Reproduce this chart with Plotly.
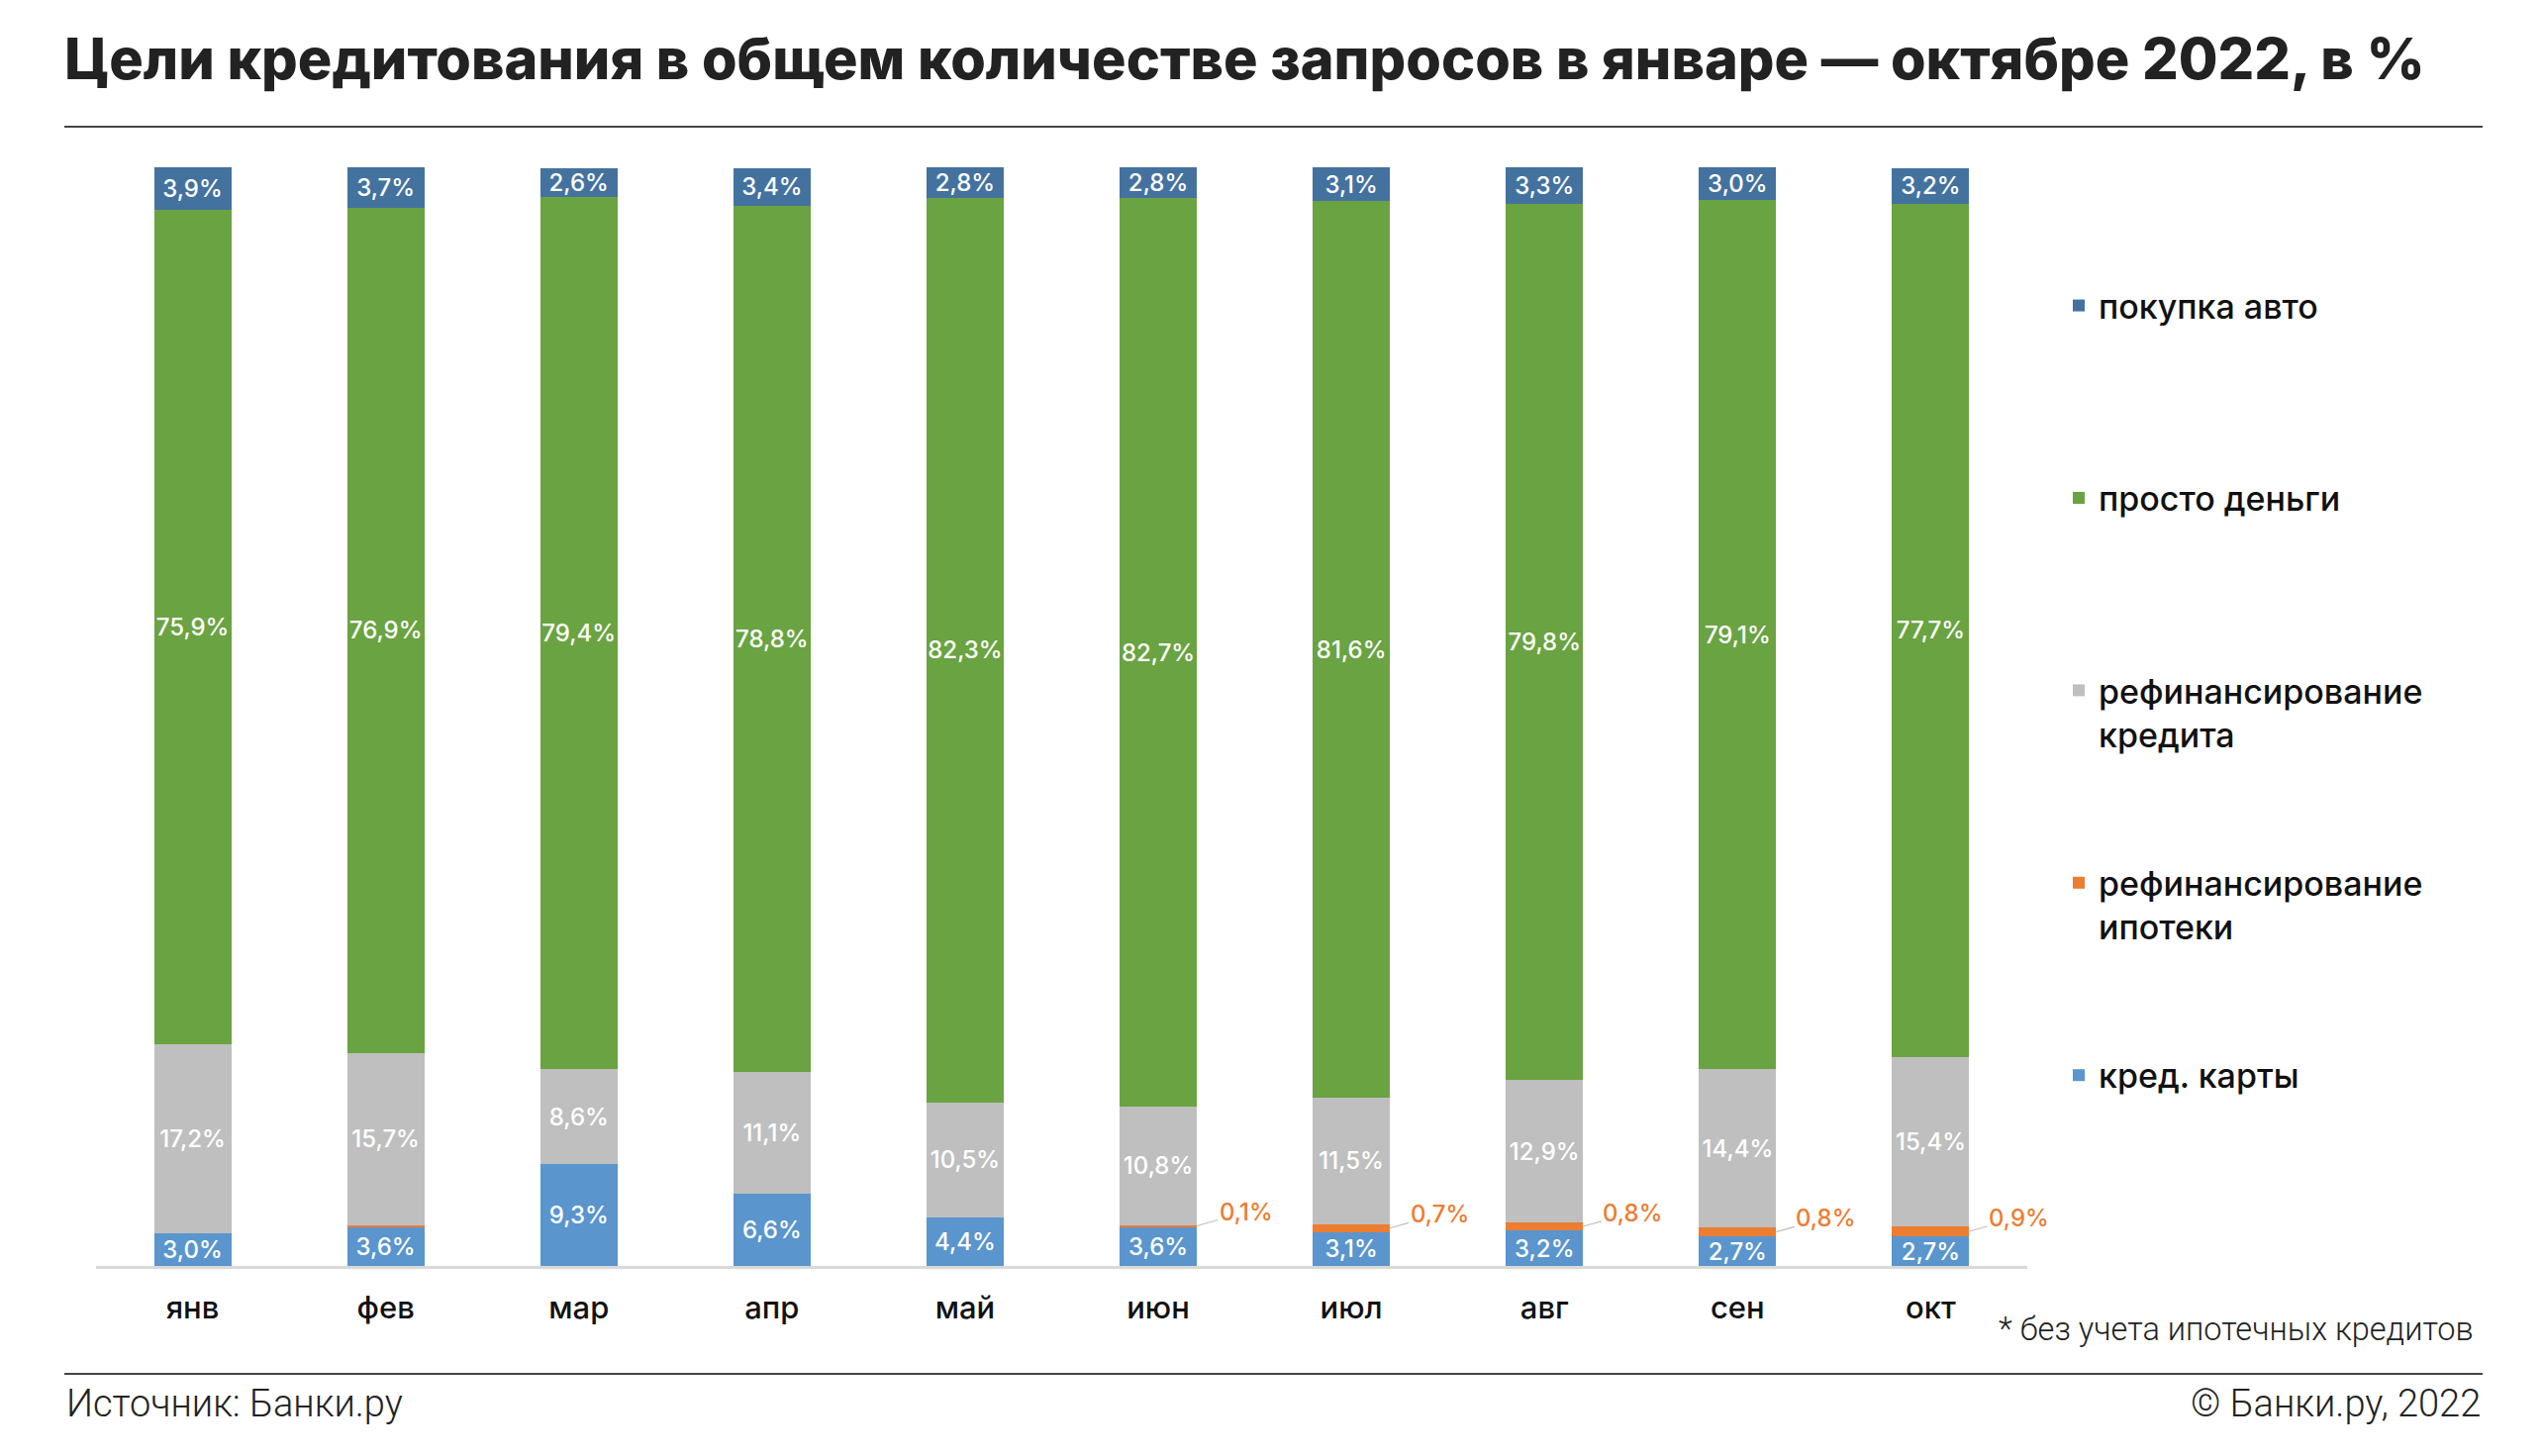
import plotly.graph_objects as go

# ---- data ----
months = ["янв", "фев", "мар", "апр", "май", "июн", "июл", "авг", "сен", "окт"]
cards = [3.0, 3.6, 9.3, 6.6, 4.4, 3.6, 3.1, 3.2, 2.7, 2.7]
mortgage_refi = [0.0, 0.1, 0.0, 0.0, 0.0, 0.1, 0.7, 0.8, 0.8, 0.9]
credit_refi = [17.2, 15.7, 8.6, 11.1, 10.5, 10.8, 11.5, 12.9, 14.4, 15.4]
cash = [75.9, 76.9, 79.4, 78.8, 82.3, 82.7, 81.6, 79.8, 79.1, 77.7]
auto = [3.9, 3.7, 2.6, 3.4, 2.8, 2.8, 3.1, 3.3, 3.0, 3.2]
mortgage_labelled = [False, False, False, False, False, True, True, True, True, True]

series_names = ["кред. карты<br> ", "рефинансирование<br>ипотеки", "рефинансирование<br>кредита",
                "просто деньги<br> ", "покупка авто<br> "]
series_colors = ["#5A95CD", "#ED7D31", "#BFBFBF", "#6AA342", "#44729F"]

title_text = "Цели кредитования в общем количестве запросов в январе — октябре 2022, в %"
source_text = "Источник: Банки.ру"
copyright_text = "© Банки.ру, 2022"
note_text = "* без учета ипотечных кредитов"

# ---- layout geometry (page pixels; the page body has an 8px margin) ----
OFF = 8
W, H = 2569 - OFF, 1471 - OFF
PLOT_L, PLOT_R, PLOT_T, PLOT_B = 97, 2048, 169, 1279
ML, MT = PLOT_L - OFF, PLOT_T - OFF
MR, MB = W - (PLOT_R - OFF), H - (PLOT_B - OFF)
PW, PH = W - ML - MR, H - MT - MB
BAR_W = 0.4


def px2paper(xp, yp):
    """page pixel -> paper coords"""
    return (xp - PLOT_L) / PW, (PLOT_B - yp) / PH


def fmt(v):
    return f"{v:.1f}".replace(".", ",") + "%"


fig = go.Figure()
series = [cards, mortgage_refi, credit_refi, cash, auto]
for k, (vals, name, col) in enumerate(zip(series, series_names, series_colors)):
    texts = ["" for _ in vals] if k == 1 else [fmt(v) for v in vals]
    fig.add_trace(go.Bar(
        x=months, y=vals, name=name, legendgroup=f"g{k}", legendrank=10 - k,
        marker=dict(color=col, line=dict(width=0)),
        width=BAR_W,
        text=texts, textposition="inside", insidetextanchor="middle",
        textangle=0, constraintext="none",
        textfont=dict(family="Inter", size=24, color="white", weight=500),
        hoverinfo="skip",
    ))

# orange labels with leader lines
for i, (c, r) in enumerate(zip(cards, mortgage_refi)):
    if mortgage_labelled[i]:
        fig.add_annotation(
            x=i + BAR_W / 2, y=c + r / 2, xref="x", yref="y",
            text=fmt(r), showarrow=True, arrowhead=0, arrowwidth=1.2,
            arrowcolor="#BFBFBF", ax=50, ay=-14,
            font=dict(family="Inter", size=24, color="#ED7D31", weight=500),
        )

# text annotations
x0, _ = px2paper(65, 0)
x1, _ = px2paper(2508, 0)
_, yl1 = px2paper(0, 128)
_, yl2 = px2paper(0, 1388)
_, yfoot = px2paper(0, 1418)
xn, yn = px2paper(2501, 1343)
xleg, yleg = px2paper(2080, 280)

fig.add_annotation(x=x0, y=yfoot, xref="paper", yref="paper", text=source_text,
                   showarrow=False, xanchor="left", yanchor="middle",
                   font=dict(family="Roboto", size=38, color="#222222", weight=300))
fig.add_annotation(x=x1, y=yfoot, xref="paper", yref="paper", text=copyright_text,
                   showarrow=False, xanchor="right", yanchor="middle",
                   font=dict(family="Roboto", size=38, color="#222222", weight=300))
fig.add_annotation(x=xn, y=yn, xref="paper", yref="paper", text=note_text,
                   showarrow=False, xanchor="right", yanchor="middle",
                   font=dict(family="Roboto", size=32.5, color="#222222", weight=300))

fig.add_shape(type="line", xref="paper", yref="paper", x0=x0, x1=x1, y0=yl1, y1=yl1,
              line=dict(color="#444444", width=2))
fig.add_shape(type="line", xref="paper", yref="paper", x0=x0, x1=x1, y0=yl2, y1=yl2,
              line=dict(color="#444444", width=2))

fig.update_layout(
    width=W, height=H,
    margin=dict(l=ML, r=MR, t=MT, b=MB, autoexpand=False),
    paper_bgcolor="white", plot_bgcolor="white",
    barmode="stack",
    title=dict(text=title_text, xref="container", yref="container",
               x=(65 - OFF) / W, xanchor="left", y=1 - (60 - OFF) / H, yanchor="middle",
               font=dict(family="Inter", size=57.6, color="#222222", weight=800)),
    xaxis=dict(showline=True, linecolor="#D9D9D9", linewidth=3, ticks="",
               showgrid=False, zeroline=False, range=[-0.5, 9.5],
               tickfont=dict(family="Inter", size=31, color="#111111", weight=500),
               ticklabelstandoff=13),
    yaxis=dict(visible=False, range=[0, 100]),
    legend=dict(xref="paper", yref="paper", x=xleg, y=yleg,
                xanchor="left", yanchor="top", traceorder="grouped",
                tracegroupgap=103, valign="top",
                font=dict(family="Inter", size=34, color="#111111", weight=500),
                bgcolor="rgba(0,0,0,0)"),
    showlegend=True,
)

fig.write_html("out.html")
